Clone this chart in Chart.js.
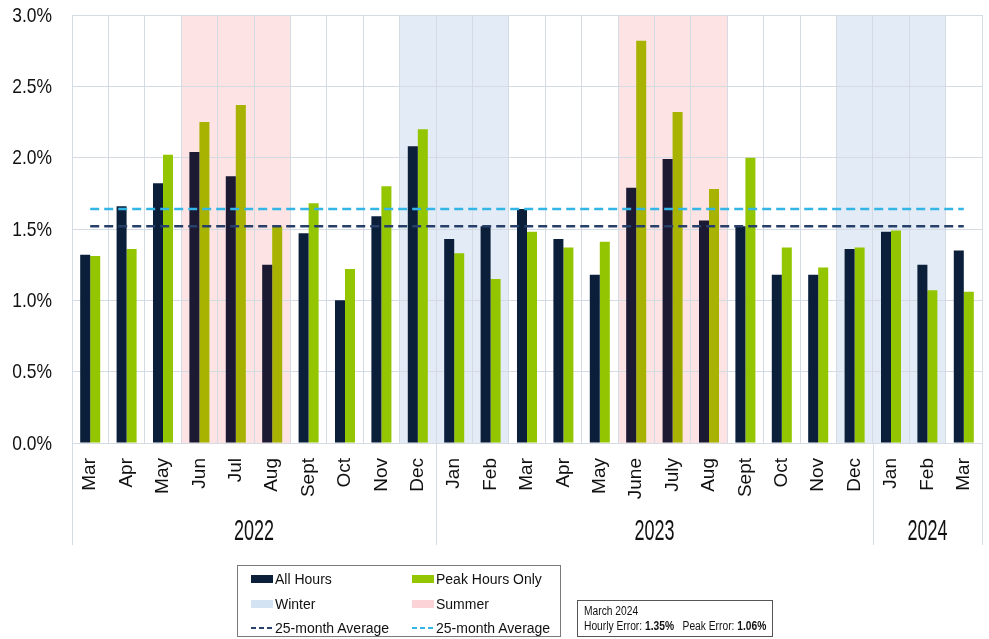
<!DOCTYPE html>
<html>
<head>
<meta charset="utf-8">
<script src="https://cdn.jsdelivr.net/npm/chart.js@4.4.1/dist/chart.umd.min.js"></script>
<style>
  html, body { margin: 0; padding: 0; background: #fff; }
  #wrap { position: relative; width: 989px; height: 639px; overflow: hidden; }
  #chart { position: absolute; left: 0; top: 0; }
  .legend {
    position: absolute; left: 237px; top: 565px; width: 324px; height: 72px;
    border: 1.5px solid #7a7a7a; box-sizing: border-box; background: #fff;
    font-family: 'Liberation Sans', Arial, sans-serif; font-size: 14px; color: #111;
  }
  .item { position: absolute; height: 20px; line-height: 20px; white-space: nowrap; }
  .sw { position: absolute; left: 0; top: 6px; width: 22px; height: 8px; }
  .dash { position: absolute; left: 0; top: 9px; width: 22px; height: 2px; }
  .item span.t { position: absolute; left: 24px; top: 0; }
  .note {
    position: absolute; left: 577px; top: 600px; width: 196px; height: 37px;
    border: 1px solid #555; box-sizing: border-box; background: #fff;
  }
  .note .txt {
    position: absolute; left: 6px; top: 3px; transform: scaleX(0.82); transform-origin: 0 0;
    font-family: 'Liberation Sans', Arial, sans-serif; font-size: 12.5px; color: #111;
    line-height: 15px; white-space: nowrap;
  }
</style>
</head>
<body>
<div id="wrap">
  <canvas id="chart" width="989" height="639"></canvas>
  <div class="legend">
    <div class="item" style="left:13px;top:3px"><div class="sw" style="background:#0b1f3b"></div><span class="t">All Hours</span></div>
    <div class="item" style="left:174px;top:3px"><div class="sw" style="background:#93c500"></div><span class="t">Peak Hours Only</span></div>
    <div class="item" style="left:13px;top:28px"><div class="sw" style="background:#d3e3f3"></div><span class="t">Winter</span></div>
    <div class="item" style="left:174px;top:28px"><div class="sw" style="background:#fcd4d7"></div><span class="t">Summer</span></div>
    <div class="item" style="left:13px;top:52px"><div class="dash" style="background:repeating-linear-gradient(90deg,#2a4268 0 5px,transparent 5px 8px)"></div><span class="t">25-month Average</span></div>
    <div class="item" style="left:174px;top:52px"><div class="dash" style="background:repeating-linear-gradient(90deg,#33b6e5 0 5px,transparent 5px 8px)"></div><span class="t">25-month Average</span></div>
  </div>
  <div class="note"><div class="txt">March 2024<br>Hourly Error: <b>1.35%</b>&nbsp;&nbsp; Peak Error: <b>1.06%</b></div></div>
</div>
<script>
// Monthly forecast error, March 2022 – March 2024
const months = ['Mar','Apr','May','Jun','Jul','Aug','Sept','Oct','Nov','Dec',
                'Jan','Feb','Mar','Apr','May','June','July','Aug','Sept','Oct','Nov','Dec',
                'Jan','Feb','Mar'];
const years = ['2022','2022','2022','2022','2022','2022','2022','2022','2022','2022',
               '2023','2023','2023','2023','2023','2023','2023','2023','2023','2023','2023','2023',
               '2024','2024','2024'];
// S = summer month, W = winter month
const seasons = ['','','','S','S','S','','','','W',
                 'W','W','','','','S','S','S','','','','W',
                 'W','W',''];
const allHours  = [1.32,1.66,1.82,2.04,1.87,1.25,1.47,1.00,1.59,2.08,
                   1.43,1.52,1.64,1.43,1.18,1.79,1.99,1.56,1.52,1.18,1.18,1.36,
                   1.48,1.25,1.35];
const peakHours = [1.31,1.36,2.02,2.25,2.37,1.52,1.68,1.22,1.80,2.20,
                   1.33,1.15,1.48,1.37,1.41,2.82,2.32,1.78,2.00,1.37,1.23,1.37,
                   1.49,1.07,1.06];
const avgAllHours = 1.52;
const avgPeakHours = 1.64;
const yTicks = [0, 0.5, 1.0, 1.5, 2.0, 2.5, 3.0];

const NAVY = '#0b1f3b', NAVY_SUMMER = '#1c1932';
const LIME = '#93c500', LIME_SUMMER = '#a7b300';
const WINTER_BAND = '#e3ecf6', SUMMER_BAND = '#fde3e4';
const GRID = '#d5dbe3';
const FONT = "'Liberation Sans', Arial, sans-serif";

// Shaded season columns behind the grid and bars
const seasonBands = {
  id: 'seasonBands',
  beforeDraw(chart) {
    const { ctx, chartArea, scales: { x } } = chart;
    const step = x.getPixelForValue(1) - x.getPixelForValue(0);
    ctx.save();
    seasons.forEach((s, i) => {
      if (!s) return;
      const cx = x.getPixelForValue(i);
      ctx.fillStyle = s === 'S' ? SUMMER_BAND : WINTER_BAND;
      ctx.fillRect(cx - step / 2, chartArea.top, step, chartArea.bottom - chartArea.top);
    });
    ctx.restore();
  }
};

// Condensed percentage labels on the value axis
const condensedYLabels = {
  id: 'condensedYLabels',
  afterDraw(chart) {
    const { ctx, chartArea, scales: { y } } = chart;
    ctx.save();
    ctx.fillStyle = '#111';
    ctx.font = '21px ' + FONT;
    ctx.textAlign = 'right';
    ctx.textBaseline = 'middle';
    yTicks.forEach(v => {
      ctx.save();
      ctx.translate(chartArea.left - 20, y.getPixelForValue(v) + 1);
      ctx.scale(0.83, 1);
      ctx.fillText(v.toFixed(1) + '%', 0, 0);
      ctx.restore();
    });
    ctx.restore();
  }
};

// Year grouping row under the month labels
const yearGroups = {
  id: 'yearGroups',
  afterDraw(chart) {
    const { ctx, chartArea, scales: { x } } = chart;
    const step = x.getPixelForValue(1) - x.getPixelForValue(0);
    const groups = [];
    years.forEach((y, i) => {
      const last = groups[groups.length - 1];
      if (last && last.year === y) last.end = i; else groups.push({ year: y, start: i, end: i });
    });
    const lineBottom = 545;
    ctx.save();
    ctx.strokeStyle = GRID;
    ctx.lineWidth = 1;
    const edges = [x.getPixelForValue(0) - step / 2];
    groups.forEach(g => edges.push(x.getPixelForValue(g.end) + step / 2));
    edges.forEach(px => {
      const xx = Math.round(px) + 0.5;
      ctx.beginPath();
      ctx.moveTo(xx, chartArea.bottom);
      ctx.lineTo(xx, lineBottom);
      ctx.stroke();
    });
    ctx.fillStyle = '#111';
    ctx.font = '29px ' + FONT;
    ctx.textAlign = 'center';
    ctx.textBaseline = 'middle';
    groups.forEach(g => {
      const cx = (x.getPixelForValue(g.start) + x.getPixelForValue(g.end)) / 2;
      ctx.save();
      ctx.translate(cx, 532);
      ctx.scale(0.62, 1);
      ctx.fillText(g.year, 0, 0);
      ctx.restore();
    });
    ctx.restore();
  }
};

new Chart(document.getElementById('chart'), {
  type: 'bar',
  data: {
    labels: months,
    datasets: [
      {
        type: 'line', label: '25-month Average (All Hours)',
        data: months.map(() => avgAllHours),
        borderColor: '#27406a', borderWidth: 2.5, borderDash: [9, 5],
        pointRadius: 0, fill: false, order: 0
      },
      {
        type: 'line', label: '25-month Average (Peak Hours)',
        data: months.map(() => avgPeakHours),
        borderColor: '#33b6e5', borderWidth: 2.5, borderDash: [9, 5],
        pointRadius: 0, fill: false, order: 0
      },
      {
        label: 'All Hours', data: allHours,
        backgroundColor: seasons.map(s => s === 'S' ? NAVY_SUMMER : NAVY),
        categoryPercentage: 0.55, barPercentage: 1.0, order: 1
      },
      {
        label: 'Peak Hours Only', data: peakHours,
        backgroundColor: seasons.map(s => s === 'S' ? LIME_SUMMER : LIME),
        categoryPercentage: 0.55, barPercentage: 1.0, order: 1
      }
    ]
  },
  options: {
    responsive: false,
    animation: false,
    devicePixelRatio: 1,
    layout: { padding: { top: 15, right: 7, left: 0, bottom: 0 } },
    plugins: { legend: { display: false }, tooltip: { enabled: false } },
    scales: {
      x: {
        grid: { color: GRID, offset: true, drawTicks: false },
        border: { color: GRID },
        ticks: {
          autoSkip: false, minRotation: 90, maxRotation: 90, padding: 15,
          color: '#111', font: { family: FONT, size: 19 }
        },
        afterFit(scale) {
          scale.height = 196;
          scale.paddingLeft = 0;
          scale.paddingRight = 0;
        }
      },
      y: {
        min: 0, max: 3,
        afterBuildTicks(scale) { scale.ticks = yTicks.map(v => ({ value: v })); },
        grid: { color: GRID, drawTicks: false },
        border: { display: false },
        ticks: { display: false },
        afterFit(scale) {
          scale.width = 72;
          scale.paddingTop = 0;
          scale.paddingBottom = 0;
        }
      }
    }
  },
  plugins: [seasonBands, condensedYLabels, yearGroups]
});
</script>
</body>
</html>
